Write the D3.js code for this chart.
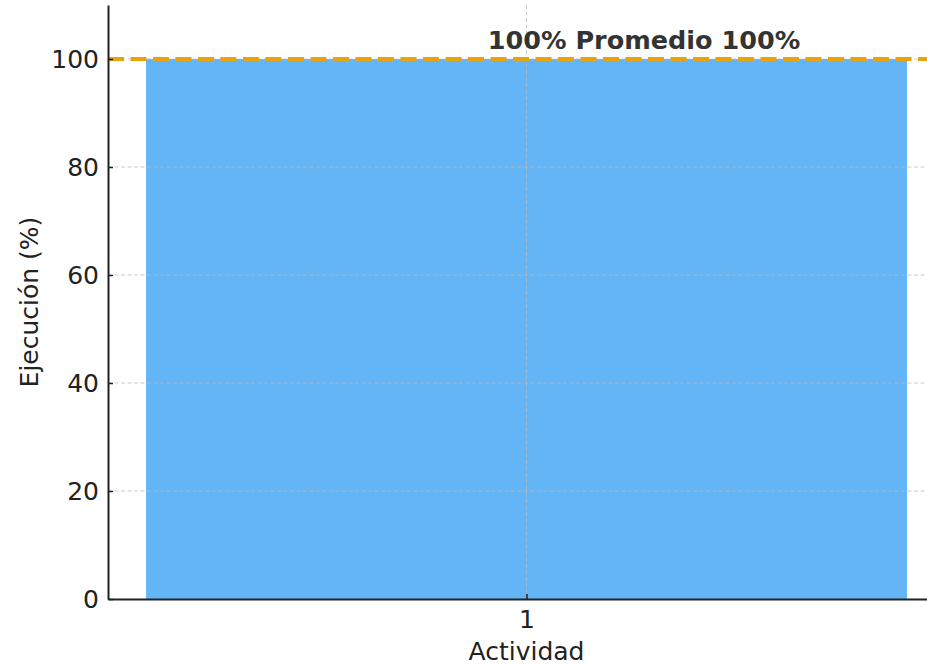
<!DOCTYPE html>
<html>
<head>
<meta charset="utf-8">
<script src="https://cdn.jsdelivr.net/npm/d3@7"></script>
<style>
  html, body { margin: 0; padding: 0; background: #ffffff; }
  svg { display: block; }
  text { font-family: "DejaVu Sans", sans-serif; }
</style>
</head>
<body>
<div id="chart"></div>
<script>
// Execution per activity, with the overall average line
const categories = ["1"];
const ejecucion = [100];
const promedio = 100;
const yTicks = [0, 20, 40, 60, 80, 100];
const annotationText = "100% Promedio 100%";

const W = 927, H = 665;
const plotLeft = 108, plotBottom = 599, plotTop = 5, plotRight = 945;

const svg = d3.select("#chart").append("svg")
  .attr("width", W).attr("height", H);

const x = d3.scaleLinear().domain([-0.44, categories.length - 1 + 0.44]).range([plotLeft, plotRight]);
const y = d3.scaleLinear().domain([0, 110]).range([plotBottom, plotTop]);
const barW = 0.8;

const plot = svg.append("g");

// bars
plot.selectAll("rect.bar").data(ejecucion).join("rect")
  .attr("class", "bar")
  .attr("x", (d, i) => x(i - barW / 2))
  .attr("width", (d, i) => x(i + barW / 2) - x(i - barW / 2))
  .attr("y", d => y(d))
  .attr("height", d => y(0) - y(d))
  .attr("fill", "#64b5f6");

// grid
const grid = plot.append("g")
  .attr("stroke", "#b8b8b8").attr("stroke-opacity", 0.75)
  .attr("stroke-width", 1).attr("stroke-dasharray", "4,2.5");
grid.selectAll("line.h").data(yTicks.filter(t => t > 0)).join("line")
  .attr("x1", plotLeft).attr("x2", W)
  .attr("y1", d => y(d)).attr("y2", d => y(d));
grid.selectAll("line.v").data(categories).join("line")
  .attr("x1", (d, i) => x(i)).attr("x2", (d, i) => x(i))
  .attr("y1", plotTop).attr("y2", plotBottom);

// average line
plot.append("line")
  .attr("x1", plotLeft).attr("x2", W)
  .attr("y1", y(promedio)).attr("y2", y(promedio))
  .attr("stroke", "#e8a20c").attr("stroke-width", 4)
  .attr("stroke-dasharray", "16,6.5");

// annotation
svg.append("text")
  .attr("x", 644).attr("y", 49)
  .attr("text-anchor", "middle")
  .attr("font-size", 25.5).attr("font-weight", "bold")
  .attr("fill", "#333333")
  .text(annotationText);

// y axis
const yAxis = d3.axisLeft(y).tickValues(yTicks).tickSizeInner(-5).tickSizeOuter(0).tickPadding(9);
const gy = svg.append("g").attr("transform", `translate(${plotLeft},0)`).call(yAxis);
gy.select(".domain").attr("stroke", "#222").attr("stroke-width", 2);
gy.selectAll(".tick line").attr("stroke", "#222").attr("stroke-width", 1.5);
gy.selectAll(".tick text").attr("font-size", 25).attr("fill", "#222")
  .attr("font-family", "DejaVu Sans, sans-serif");

// x axis
const xAxis = d3.axisBottom(x).tickValues(categories.map((c, i) => i))
  .tickFormat((d) => categories[d]).tickSizeInner(-5).tickSizeOuter(0).tickPadding(11);
const gx = svg.append("g").attr("transform", `translate(0,${plotBottom})`).call(xAxis);
gx.select(".domain").attr("stroke", "#222").attr("stroke-width", 2);
gx.selectAll(".tick line").attr("stroke", "#222").attr("stroke-width", 1.5);
gx.selectAll(".tick text").attr("font-size", 25).attr("fill", "#222")
  .attr("font-family", "DejaVu Sans, sans-serif");

// axis titles
svg.append("text")
  .attr("x", x(0)).attr("y", 660)
  .attr("text-anchor", "middle")
  .attr("font-size", 25).attr("fill", "#222")
  .text("Actividad");

svg.append("text")
  .attr("transform", `translate(38,${(plotTop + plotBottom) / 2}) rotate(-90)`)
  .attr("text-anchor", "middle")
  .attr("font-size", 25).attr("fill", "#222")
  .text("Ejecución (%)");
</script>
</body>
</html>
